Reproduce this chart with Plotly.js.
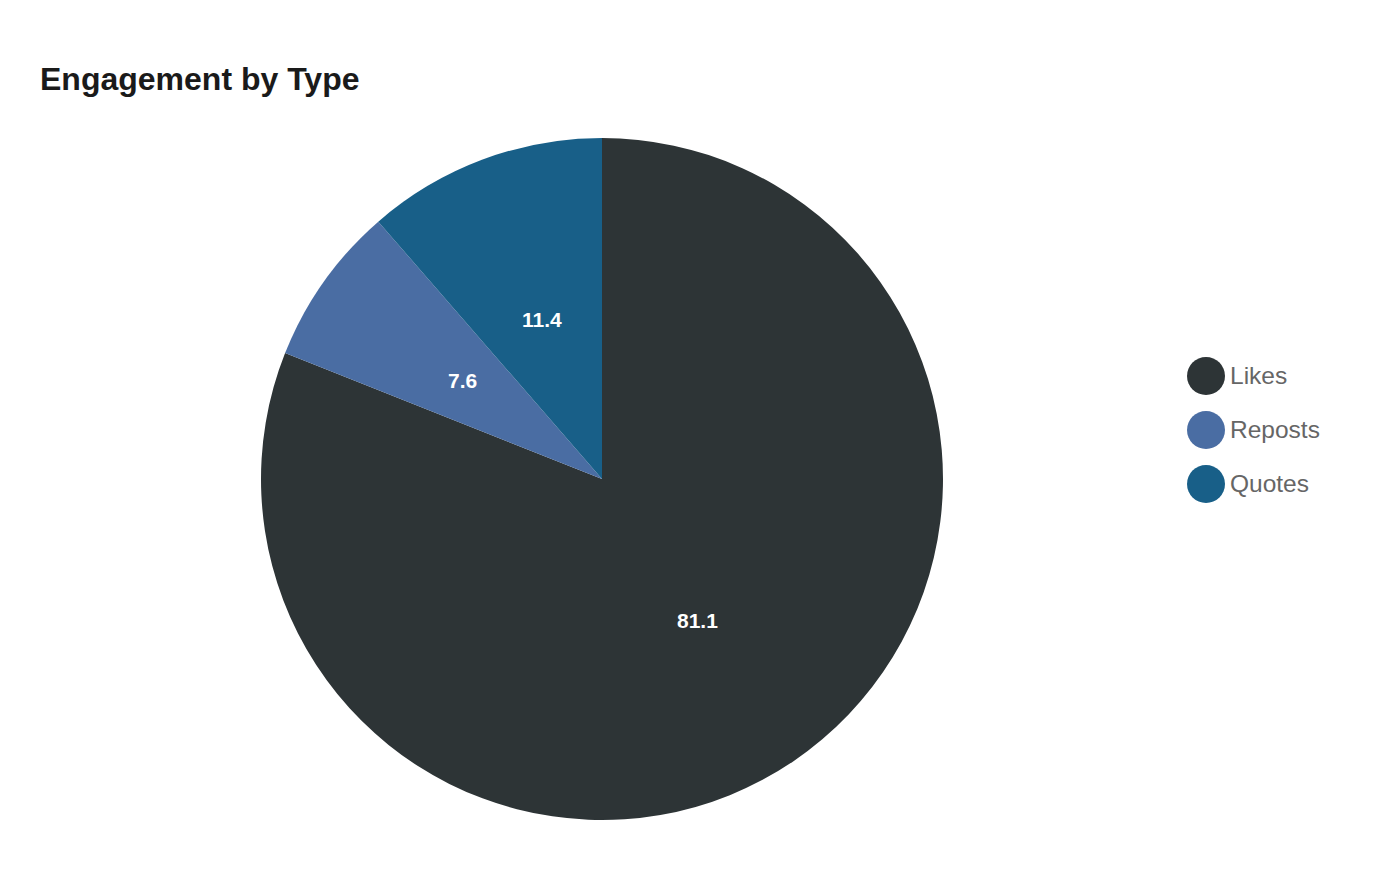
<!DOCTYPE html>
<html>
<head>
<meta charset="utf-8">
<script src="https://cdn.plot.ly/plotly-3.0.1.min.js"></script>
<style>
  html, body { margin: 0; padding: 0; background: #fff; }
  #myDiv { width: 1400px; height: 880px; }
</style>
</head>
<body>
<div id="myDiv"></div>
<script>
var categories = ['Likes', 'Reposts', 'Quotes'];
var shares = [81.1, 7.6, 11.4];
var sliceColors = ['#2d3436', '#4a6da3', '#185f88'];

var W = 1400, H = 880;
var FONT = 'Liberation Sans, Arial, sans-serif';

// pie placement (paper fractions)
var pieDomX = [0, 1204 / W], pieDomY = [60 / H, 742 / H];

var pie = {
  type: 'pie',
  labels: categories,
  values: shares,
  textinfo: 'none',
  marker: {colors: sliceColors, line: {width: 0}},
  sort: false,
  direction: 'clockwise',
  rotation: 0,
  showlegend: false,
  hoverinfo: 'label+value',
  domain: {x: pieDomX, y: pieDomY}
};

var shapes = [], annotations = [];

// value labels at half radius along each slice's mid angle
var total = shares.reduce(function (a, b) { return a + b; }, 0);
var cxPx = (pieDomX[0] + pieDomX[1]) / 2 * W;
var cyPx = (pieDomY[0] + pieDomY[1]) / 2 * H;
var rPx = Math.min((pieDomX[1] - pieDomX[0]) * W, (pieDomY[1] - pieDomY[0]) * H) / 2;
var cum = 0;
shares.forEach(function (v) {
  var mid = (cum + v / 2) / total * 2 * Math.PI;
  cum += v;
  annotations.push({
    xref: 'paper', yref: 'paper',
    x: (cxPx + 0.5 * rPx * Math.sin(mid)) / W,
    y: (cyPx + 0.5 * rPx * Math.cos(mid)) / H,
    xanchor: 'center', yanchor: 'middle',
    text: v.toFixed(1), showarrow: false,
    font: {family: FONT, size: 21, color: '#ffffff', weight: 'bold'}
  });
});

// legend drawn as circles + labels, built from the category arrays
categories.forEach(function (name, i) {
  var cy = 376 + i * 54;
  shapes.push({
    type: 'circle', xref: 'paper', yref: 'paper',
    xsizemode: 'pixel', ysizemode: 'pixel',
    xanchor: 1206 / W, yanchor: (H - cy) / H,
    x0: -19, x1: 19, y0: -19, y1: 19,
    fillcolor: sliceColors[i], line: {width: 0}
  });
  annotations.push({
    xref: 'paper', yref: 'paper',
    x: 1228 / W, y: (H - cy + 1) / H,
    xanchor: 'left', yanchor: 'middle',
    text: name, showarrow: false,
    font: {family: FONT, size: 24.5, color: '#666666'}
  });
});

var layout = {
  width: W, height: H,
  margin: {l: 0, r: 0, t: 0, b: 0},
  paper_bgcolor: '#ffffff',
  title: {
    text: 'Engagement by Type',
    xref: 'container', yref: 'container',
    x: 40 / W, xanchor: 'left',
    y: 1 - 79 / H, yanchor: 'middle',
    font: {family: FONT, size: 32, color: '#1a1a1a', weight: 'bold'}
  },
  showlegend: false,
  shapes: shapes,
  annotations: annotations
};

Plotly.newPlot('myDiv', [pie], layout, {displayModeBar: false});
</script>
</body>
</html>
